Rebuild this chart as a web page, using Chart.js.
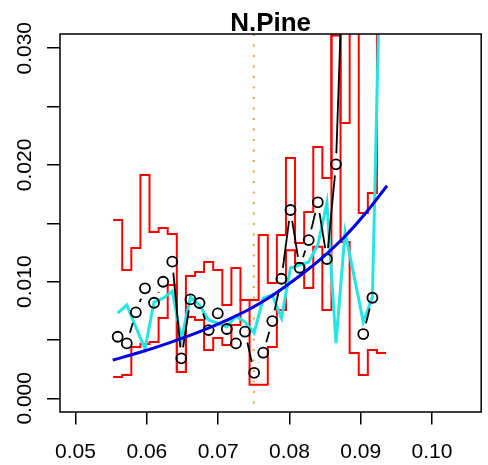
<!DOCTYPE html>
<html><head><meta charset="utf-8">
<script src="https://cdn.jsdelivr.net/npm/chart.js@4.4.0/dist/chart.umd.min.js"></script>
<style>html,body{margin:0;padding:0;background:#fff}#wrap{width:488px;height:465px}</style>
</head><body><div id="wrap"><canvas id="c" width="488" height="465"></canvas></div>
<script>
const chartTitle = "N.Pine";
const binX = [0.05591,0.05719,0.05846,0.05974,0.06101,0.06229,0.06357,0.06484,0.06612,0.06739,
  0.06867,0.06995,0.07122,0.07250,0.07377,0.07505,0.07633,0.07760,0.07888,0.08015,
  0.08143,0.08271,0.08398,0.08526,0.08653,0.08781,0.08909,0.09036,0.09164,0.09291];
const upperStep = [0.01528,0.01099,0.01288,0.01914,0.01425,0.01459,0.01408,0.00226,0.01048,0.01082,
  0.01168,0.01099,0.00800,0.01117,0.00843,0.00843,0.01399,0.00988,0.01399,0.02060,
  0.01331,0.01596,0.02154,0.01888,0.03109,0.02359,0.04500,0.01588,0.01759,0.04500];
const lowerStep = [0.00183,0.00200,0.00440,0.00465,0.00482,0.00688,0.00971,0.00226,0.00697,0.00671,
  0.00414,0.00517,0.00457,0.00628,0.00843,0.00116,0.00116,0.00440,0.00757,0.01268,
  0.01157,0.00945,0.01300,0.00757,0.04500,0.01340,0.00388,0.00200,0.00414,0.00388];
const cyanSeries = [0.00731,0.00799,0.00611,0.00422,0.00825,0.00859,0.00919,0.00500,0.00868,0.00799,
  0.00671,0.00645,0.00611,0.00705,0.00654,0.00560,0.00859,0.00885,0.00688,0.01117,
  0.01142,0.01168,0.01314,0.01677,0.00474,0.01425,0.01041,0.00654,0.00868,0.04270];
const observed = [0.00528,0.00471,0.00737,0.00943,0.00819,0.00999,0.01171,0.00343,0.00848,0.00817,
  0.00585,0.00728,0.00594,0.00471,0.00571,0.00219,0.00391,0.00662,0.01025,0.01614,
  0.01119,0.01356,0.01680,0.01194,0.02005,0.04300,null,0.00551,0.00862,null];
const fitX = [0.055215,0.058917,0.062620,0.067238,0.071399,0.074173,0.076947,0.079720,0.082494,0.085268,0.088042,0.090816,0.093687];
const fitY = [0.003282,0.003924,0.004653,0.005681,0.006752,0.007566,0.008552,0.009709,0.010994,0.012408,0.014036,0.015964,0.018218];
const refLineX = 0.075;
const xTickValues = [0.05,0.06,0.07,0.08,0.09,0.10];
const yTickValues = [0,0.005,0.010,0.015,0.020,0.025,0.030];
const yLabelValues = [0,0.010,0.020,0.030];

const FONT = "'Liberation Sans', Arial, Helvetica, sans-serif";
const GAP = 11;

function stepData(vals){
  const n = binX.length;
  const first = binX[0] - (binX[1]-binX[0])/2;
  const last = binX[n-1] + (binX[n-1]-binX[n-2])/2;
  const pts = [{x:first, y:vals[0]}];
  binX.forEach((x,i)=>pts.push({x:x, y:vals[i]}));
  pts.push({x:last, y:vals[n-1]});
  return pts;
}
const pairs = (xs, ys) => xs.map((x,i)=>({x:x, y:ys[i]}));

const deco = {
  id:'deco',
  afterDraw(chart){
    const {ctx, chartArea:a, scales:{y}} = chart;
    ctx.save();
    ctx.strokeStyle='#000'; ctx.lineWidth=1.5;
    ctx.strokeRect(a.left, a.top, a.right-a.left, a.bottom-a.top);
    ctx.fillStyle='#000';
    ctx.font = "21px " + FONT;
    ctx.textAlign='center'; ctx.textBaseline='alphabetic';
    yLabelValues.forEach(v=>{
      const py = y.getPixelForValue(v);
      ctx.save(); ctx.translate(31, py); ctx.rotate(-Math.PI/2);
      ctx.fillText(v.toFixed(3), 0, 0); ctx.restore();
    });
    ctx.font = "bold 26px " + FONT;
    ctx.fillText(chartTitle, (a.left+a.right)/2, 30.5);
    ctx.restore();
  }
};

new Chart(document.getElementById('c'), {
  type:'line',
  data:{datasets:[
    {label:'fit', data:pairs(fitX, fitY), borderColor:'#0000E8', borderWidth:3, pointRadius:0,
     cubicInterpolationMode:'monotone', order:0, clip:0},
    {label:'observed', data:pairs(binX, observed), borderColor:'#000', borderWidth:1.8,
     pointRadius:5, pointBorderWidth:1.8, pointBorderColor:'#000', pointBackgroundColor:'rgba(0,0,0,0)',
     spanGaps:false, order:1, clip:0,
     segment:{borderDash: c=>{
       const L = Math.hypot(c.p1.x-c.p0.x, c.p1.y-c.p0.y);
       const on = L - 2*GAP;
       return on > 0 ? [0, GAP, on, GAP] : [0, L+1];
     }}},
    {label:'cyan', data:pairs(binX, cyanSeries), borderColor:'#22E6E6', borderWidth:3, pointRadius:0, order:2, clip:0},
    {label:'ref', data:[{x:refLineX,y:0.03122},{x:refLineX,y:-0.00117}], borderColor:'#F5A030', borderWidth:2,
     borderDash:[2,8.5], pointRadius:0, order:3, clip:0},
    {label:'upper', data:stepData(upperStep), borderColor:'#FF0000', borderWidth:2, stepped:'middle', pointRadius:0, order:4, clip:0},
    {label:'lower', data:stepData(lowerStep), borderColor:'#FF0000', borderWidth:2, stepped:'middle', pointRadius:0, order:5, clip:0}
  ]},
  options:{
    responsive:false, animation:false, devicePixelRatio:1,
    layout:{padding:{left:0,right:2,top:34,bottom:0}},
    plugins:{legend:{display:false}, tooltip:{enabled:false}, title:{display:false}},
    scales:{
      x:{type:'linear', min:0.04782, max:0.10690,
        afterBuildTicks: s=>{ s.ticks = xTickValues.map(v=>({value:v})); },
        afterFit: s=>{ s.height = 53; },
        grid:{display:true, drawOnChartArea:false, drawTicks:true, tickLength:12.5, color:'#000', lineWidth:1.5},
        border:{display:false},
        ticks:{color:'#000', font:{family:FONT, size:21}, padding:15, maxRotation:0, minRotation:0, autoSkip:false,
          callback: v=>Number(v).toFixed(2)}},
      y:{type:'linear', min:-0.00117, max:0.03122,
        afterBuildTicks: s=>{ s.ticks = yTickValues.map(v=>({value:v})); },
        afterFit: s=>{ s.width = 60; },
        grid:{display:true, drawOnChartArea:false, drawTicks:true, tickLength:13, color:'#000', lineWidth:1.5},
        border:{display:false},
        ticks:{display:false}}
    }
  },
  plugins:[deco]
});
</script></body></html>
